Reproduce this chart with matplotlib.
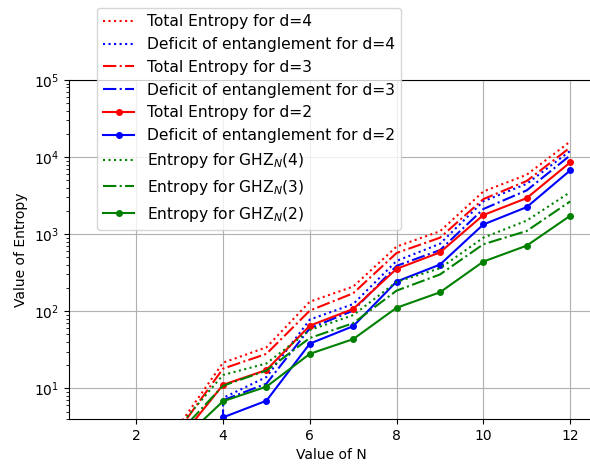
import matplotlib
matplotlib.use("Agg")
import matplotlib.pyplot as plt

N = [1, 2, 3, 4, 5, 6, 7, 8, 9, 10, 11, 12]

total_d4 = [0, 1.0, 3.4, 21.5, 34, 133, 209, 690, 1090, 3580, 5900, 15900]
deficit_d4 = [0, 0, 0, 7.5, 14, 78, 124, 450, 750, 2670, 4500, 12000]
total_d3 = [0, 0.8, 3.0, 18, 28, 102, 171, 570, 900, 2850, 4900, 13300]
deficit_d3 = [0, 0, 0, 7, 11.5, 60, 102, 388, 620, 2120, 3700, 10500]
total_d2 = [0, 0.6, 2.2, 11.1, 17.3, 65, 107, 355, 580, 1770, 2937, 8530]
deficit_d2 = [0, 0, 0, 4.2, 6.9, 38, 64, 243, 403, 1336, 2244, 6710]
ghz4 = [0, 1.0, 3.3, 14.9, 21, 57, 89, 240, 361, 900, 1500, 3500]
ghz3 = [0, 0.8, 2.7, 10.8, 17, 45, 70, 185, 300, 740, 1100, 2656]
ghz2 = [0, 0.6, 2.0, 6.8, 10.5, 28, 43.5, 111, 176, 441, 710, 1730]

labels = [
    "Total Entropy for d=4",
    "Deficit of entanglement for d=4",
    "Total Entropy for d=3",
    "Deficit of entanglement for d=3",
    "Total Entropy for d=2",
    "Deficit of entanglement for d=2",
    r"Entropy for GHZ$_N$(4)",
    r"Entropy for GHZ$_N$(3)",
    r"Entropy for GHZ$_N$(2)",
]
series = [total_d4, deficit_d4, total_d3, deficit_d3, total_d2, deficit_d2,
          ghz4, ghz3, ghz2]
styles = [
    dict(color="red", linestyle=":"),
    dict(color="blue", linestyle=":"),
    dict(color="red", linestyle="-."),
    dict(color="blue", linestyle="-."),
    dict(color="red", linestyle="-", marker="o", markersize=4),
    dict(color="blue", linestyle="-", marker="o", markersize=4),
    dict(color="green", linestyle=":"),
    dict(color="green", linestyle="-."),
    dict(color="green", linestyle="-", marker="o", markersize=4),
]

fig = plt.figure(figsize=(5.9, 4.66), dpi=100)
ax = fig.add_axes([69 / 590, 47 / 466, 525 / 590, 339 / 466])

for y, lab, st in zip(series, labels, styles):
    ax.plot(N, y, label=lab, linewidth=1.5, **st)

ax.set_yscale("log", nonpositive="clip")
ax.set_ylim(4, 1e5)
ax.set_xlim(0.45, 12.55)
ax.set_xticks([2, 4, 6, 8, 10, 12])
ax.grid(True, which="major", color="#b0b0b0", linewidth=0.8)
ax.spines["right"].set_visible(False)
ax.set_xlabel("Value of N")
ax.set_ylabel("Value of Entropy")

ax.legend(loc="upper left", bbox_to_anchor=(0.0535, 1.212), borderaxespad=0,
          fontsize=11.2)

fig.savefig("out.png", dpi=100)
